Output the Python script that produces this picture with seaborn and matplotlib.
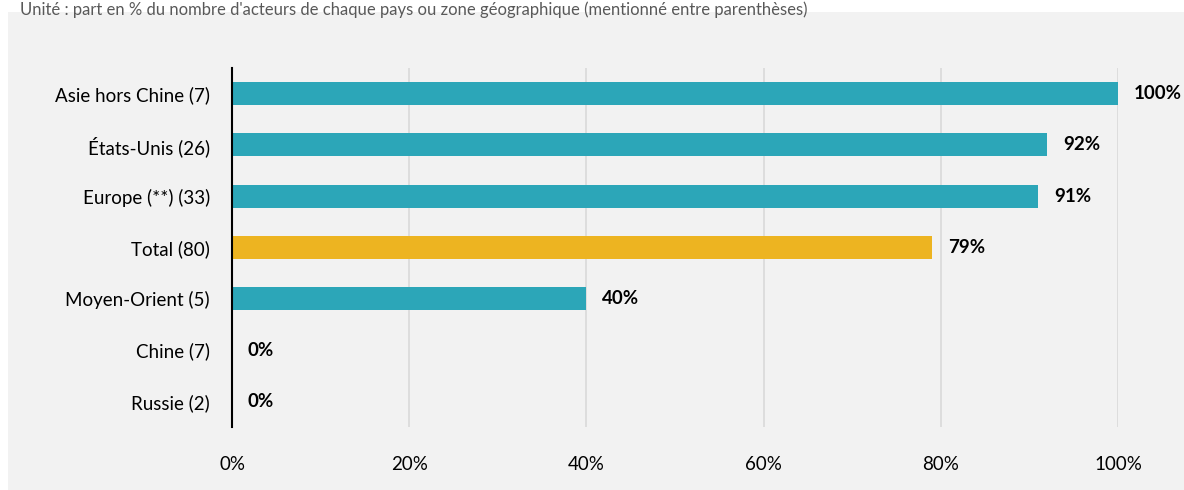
import matplotlib
matplotlib.use("Agg")
import matplotlib.pyplot as plt
import pandas as pd
import seaborn as sns

categories = ["Asie hors Chine (7)", "États-Unis (26)", "Europe (**) (33)", "Total (80)",
              "Moyen-Orient (5)", "Chine (7)", "Russie (2)"]
values = [100, 92, 91, 79, 40, 0, 0]
groups = ["zone", "zone", "zone", "total", "zone", "zone", "zone"]
subtitle = "Unité : part en % du nombre d'acteurs de chaque pays ou zone géographique (mentionné entre parenthèses)"

df = pd.DataFrame({"cat": categories, "val": values, "grp": groups})

sns.set_theme(style="white")
plt.rcParams["font.family"] = ["Lato", "DejaVu Sans"]

fig = plt.figure(figsize=(11.84, 4.9), dpi=100)
# grey panel behind the chart
fig.patches.append(plt.Rectangle((8 / 1184, 0), 1, 1 - 12 / 490, transform=fig.transFigure,
                                 facecolor="#f2f2f2", edgecolor="none", zorder=-10))
fig.text(20 / 1184, 1 - 1 / 490, subtitle, fontsize=12, color="#595959",
         va="top", ha="left", zorder=10)

ax = fig.add_axes([232 / 1184, 1 - 427 / 490, (1118 - 232) / 1184, (427 - 68) / 490])
ax.set_facecolor("none")

palette = {"zone": "#2ca6b8", "total": "#edb421"}
sns.barplot(data=df, x="val", y="cat", hue="grp", palette=palette, dodge=False,
            saturation=1, width=0.45, linewidth=0, legend=False, ax=ax, zorder=3)

ax.set_xlim(0, 100)
ax.set_ylim(6.5, -0.5)
ax.set_xticks([0, 20, 40, 60, 80, 100])
ax.set_xticklabels([f"{t}%" for t in [0, 20, 40, 60, 80, 100]])
ax.xaxis.grid(True, color="#d9d9d9", linewidth=1.2, zorder=0)
ax.set_axisbelow(True)
ax.tick_params(axis="x", length=0, pad=21, labelsize=13.5, labelcolor="#000000")
ax.tick_params(axis="y", length=0, pad=16, labelsize=13.5, labelcolor="#000000")
ax.set_xlabel("")
ax.set_ylabel("")
for s in ["top", "right", "bottom"]:
    ax.spines[s].set_visible(False)
ax.spines["left"].set_color("black")
ax.spines["left"].set_linewidth(1.5)
ax.spines["left"].set_zorder(5)

for i, v in enumerate(values):
    ax.annotate(f"{v}%", xy=(v, i), xytext=(16, 0), textcoords="offset pixels",
                va="center", ha="left", fontsize=13.5, fontweight="bold", color="black")

fig.savefig("out.png", dpi=100)
